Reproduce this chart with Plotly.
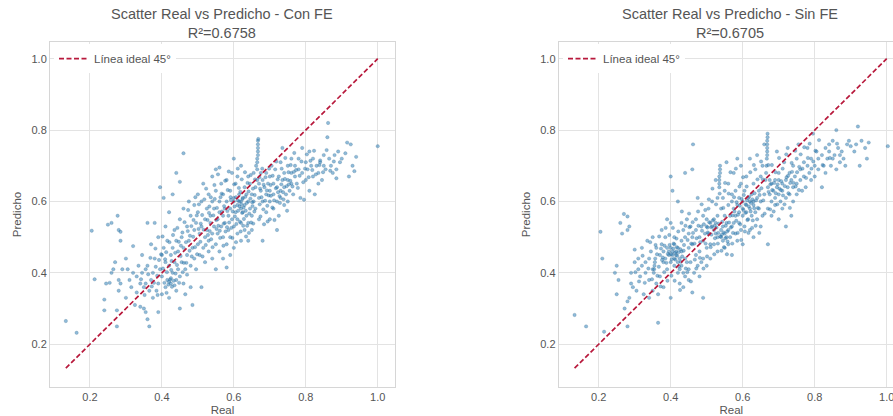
import plotly.graph_objects as go

TITLE_CON = "Scatter Real vs Predicho - Con FE<br>R²=0.6758"
TITLE_SIN = "Scatter Real vs Predicho - Sin FE<br>R²=0.6705"
LINE_NAME = "Línea ideal 45°"
TICKS = [0.2, 0.4, 0.6, 0.8, 1.0]
TICK_TEXT = ["0.2", "0.4", "0.6", "0.8", "1.0"]
IDEAL = [0.133, 1.0]

con_low = [
 (.133,.265),(.163,.232),(.205,.518),(.213,.382),(.24,.325),(.24,.295),(.245,.37),(.255,.372),(.25,.535),(.26,.54),
 (.277,.56),(.275,.25),(.275,.295),(.28,.52),(.285,.515),(.285,.49),(.27,.43),(.265,.41),(.28,.38),(.285,.37),
 (.28,.35),(.26,.40),(.29,.41),(.30,.33),(.30,.44),(.305,.41),(.31,.38),(.315,.36),(.32,.40),(.32,.475),
 (.325,.31),(.33,.39),(.33,.345),(.335,.42),(.34,.305),(.34,.37),(.345,.45),(.345,.40),(.35,.30),(.35,.36),
 (.355,.37),(.355,.41),(.355,.29),(.36,.54),(.36,.27),(.36,.42),(.365,.25),(.365,.35),(.37,.48),(.37,.38),
 (.375,.40),(.375,.33),(.38,.54),(.38,.44),(.385,.35),(.39,.29),(.39,.37),(.39,.50),(.395,.41),(.395,.64),
 (.40,.34),(.40,.45),(.40,.39),(.405,.47),(.405,.61),(.41,.36),(.41,.43),(.41,.53),(.415,.38),(.415,.49),
 (.42,.375),(.42,.42),(.42,.57),(.42,.33),(.425,.37),(.425,.45),(.425,.385),(.43,.40),(.43,.47),(.43,.62),
 (.435,.365),(.435,.43),(.435,.52),(.44,.38),(.44,.49),(.44,.35),(.44,.68),(.445,.41),(.445,.46),(.45,.39),
 (.45,.30),(.45,.55),(.45,.655),(.455,.43),(.455,.50),(.46,.37),(.46,.735),(.46,.47),(.46,.58),(.465,.41),
 (.465,.34),(.47,.45),(.47,.53),(.47,.395),(.475,.60),(.475,.49),(.48,.42),(.48,.36),(.48,.56),(.485,.31),
 (.485,.47),(.49,.52),(.49,.44),(.49,.59),(.495,.41),(.495,.54),(.50,.48),(.50,.62),(.50,.57),(.505,.45),
 (.505,.51),(.51,.36),(.51,.53),(.51,.60),(.515,.47),(.515,.65),(.52,.50),(.52,.55),(.52,.43),(.525,.58),
]
con_mid = [
 (.525,.52),(.53,.46),(.53,.49),(.53,.62),(.535,.56),(.535,.54),(.54,.51),(.54,.60),(.54,.44),(.54,.67),
 (.545,.53),(.545,.58),(.55,.48),(.55,.63),(.55,.69),(.55,.41),(.555,.55),(.555,.51),(.56,.46),(.56,.60),
 (.56,.57),(.56,.695),(.565,.53),(.565,.65),(.57,.50),(.57,.56),(.57,.62),(.57,.44),(.575,.58),(.575,.54),
 (.58,.48),(.58,.66),(.58,.60),(.58,.415),(.585,.52),(.585,.56),(.59,.63),(.59,.50),(.59,.45),(.59,.58),
 (.595,.55),(.595,.68),(.60,.60),(.60,.53),(.60,.61),(.60,.47),(.60,.72),(.605,.57),(.605,.65),(.61,.59),
 (.61,.55),(.61,.51),(.61,.67),(.615,.60),(.615,.62),(.62,.58),(.62,.54),(.62,.60),(.62,.49),(.62,.70),
 (.625,.61),(.625,.57),(.63,.59),(.63,.64),(.63,.52),(.635,.56),(.635,.62),(.64,.60),(.64,.49),(.64,.67),
 (.64,.54),(.645,.58),(.645,.65),(.65,.62),(.65,.56),(.65,.52),(.655,.60),(.655,.68),(.66,.64),(.66,.58),
 (.662,.70),(.665,.66),(.665,.69),(.665,.71),(.665,.72),(.667,.73),(.667,.74),(.667,.75),(.667,.76),(.667,.77),
 (.668,.775),(.67,.65),(.67,.61),(.67,.55),(.675,.68),(.675,.63),(.68,.60),(.68,.66),(.68,.49),(.685,.64),
 (.69,.62),(.69,.68),(.69,.57),(.695,.65),(.70,.60),(.70,.63),(.70,.55),(.70,.67),(.705,.70),(.71,.62),
 (.71,.65),(.71,.58),(.715,.69),(.72,.60),(.72,.64),(.72,.52),(.725,.67),(.725,.56),(.73,.63),(.73,.61),
 (.73,.71),(.735,.66),(.735,.75),(.74,.59),(.74,.64),(.74,.68),(.745,.62),(.75,.66),(.75,.60),(.75,.70),
 (.755,.63),(.76,.68),(.76,.72),(.76,.65),(.765,.62),(.77,.67),(.77,.70),(.775,.65),(.78,.69),(.78,.72),
]
con_core = [
 (.372,.362),(.383,.417),(.387,.392),(.392,.436),(.403,.412),(.407,.372),(.412,.458),(.414,.402),(.418,.367),(.423,.381),
 (.427,.433),(.428,.361),(.433,.378),(.437,.456),(.442,.422),(.447,.487),(.452,.447),(.457,.513),(.461,.428),(.467,.486),
 (.472,.517),(.477,.462),(.482,.531),(.487,.501),(.492,.472),(.497,.561),(.502,.523),(.507,.487),(.512,.562),(.516,.521),
 (.522,.478),(.527,.548),(.532,.586),(.533,.517),(.537,.494),(.543,.561),(.547,.607),(.552,.523),(.553,.582),(.557,.532),
 (.562,.498),(.563,.612),(.567,.572),(.572,.538),(.573,.587),(.577,.516),(.582,.573),(.583,.632),(.587,.541),(.592,.604),
 (.593,.526),(.597,.572),(.602,.586),(.603,.558),(.606,.612),(.607,.537),(.611,.603),(.612,.574),(.616,.586),(.617,.543),
 (.618,.627),(.621,.592),(.623,.568),(.624,.607),(.627,.583),(.628,.551),(.632,.613),(.633,.574),(.636,.596),(.637,.532),
 (.641,.628),(.643,.566),(.646,.608),(.648,.541),(.652,.587),(.653,.636),(.657,.572),(.658,.618),(.672,.592),(.673,.636),
 (.677,.612),(.682,.578),(.683,.647),(.687,.602),(.692,.631),(.693,.588),(.697,.617),(.702,.646),(.707,.583),(.712,.603),
 (.717,.637),(.722,.662),(.727,.615),(.732,.648),(.737,.626),(.742,.663),(.747,.643),(.752,.682),(.757,.658),(.767,.683),
]
con_band = [
 (.342,.382),(.352,.338),(.362,.396),(.368,.442),(.378,.372),(.382,.468),(.388,.338),(.398,.452),(.402,.502),(.409,.438),
 (.413,.344),(.421,.486),(.426,.408),(.431,.506),(.438,.398),(.443,.526),(.448,.372),(.453,.476),(.458,.402),(.463,.542),
 (.468,.428),(.473,.576),(.478,.504),(.483,.446),(.488,.548),(.493,.612),(.498,.452),(.503,.592),(.508,.538),(.513,.446),
 (.518,.606),(.523,.636),(.528,.506),(.531,.568),(.536,.612),(.541,.472),(.546,.646),(.551,.548),(.556,.676),(.561,.518),
 (.566,.622),(.571,.476),(.576,.658),(.581,.528),(.586,.684),(.591,.612),(.596,.498),(.601,.648),(.606,.486),(.611,.692),
 (.614,.638),(.619,.516),(.622,.662),(.626,.532),(.631,.682),(.634,.502),(.638,.652),(.642,.512),(.647,.674),(.651,.598),
 (.654,.538),(.659,.662),(.671,.668),(.674,.558),(.679,.692),(.684,.536),(.688,.668),(.694,.544),(.698,.692),(.703,.616),
 (.708,.672),(.713,.548),(.718,.712),(.723,.626),(.728,.596),(.733,.692),(.738,.606),(.743,.722),(.748,.574),(.753,.648),
 (.758,.702),(.763,.642),(.768,.736),(.773,.688),(.778,.638),(.783,.672),(.788,.712),(.793,.654),(.798,.692),(.803,.732),
 (.808,.668),(.813,.714),(.818,.688),(.823,.742),(.828,.676),(.838,.702),(.848,.682),(.858,.744),(.868,.686),(.878,.712),
]
con_high = [
 (.785,.61),(.79,.68),(.79,.75),(.795,.605),(.80,.66),(.80,.71),(.805,.69),(.81,.74),(.81,.63),(.815,.70),
 (.82,.67),(.82,.72),(.825,.62),(.83,.70),(.835,.65),(.835,.68),(.84,.71),(.84,.715),(.845,.66),(.85,.73),
 (.85,.70),(.855,.69),(.86,.78),(.862,.82),(.865,.72),(.87,.70),(.875,.68),(.88,.73),(.885,.69),(.885,.665),
 (.89,.74),(.895,.71),(.90,.72),(.91,.735),(.915,.765),(.92,.67),(.925,.76),(.93,.70),(.935,.685),(.94,.725),
 (1.0,.755),
]

sin_low = [
 (.133,.282),(.165,.25),(.205,.515),(.21,.44),(.215,.235),(.245,.40),(.25,.34),(.25,.42),(.255,.38),(.26,.54),
 (.265,.51),(.27,.565),(.272,.30),(.28,.558),(.28,.25),(.28,.52),(.285,.53),(.28,.32),(.285,.33),(.29,.37),
 (.29,.40),(.295,.36),(.30,.43),(.30,.465),(.305,.35),(.31,.41),(.31,.44),(.315,.39),(.32,.42),(.32,.47),
 (.325,.34),(.33,.43),(.33,.40),(.335,.49),(.34,.38),(.34,.44),(.34,.33),(.345,.46),(.35,.41),(.35,.50),
 (.35,.35),(.353,.40),(.354,.41),(.355,.42),(.356,.43),(.357,.44),(.36,.47),(.36,.37),(.365,.26),(.365,.34),
 (.37,.45),(.37,.39),(.375,.48),(.375,.52),(.38,.43),(.38,.46),(.38,.36),(.385,.44),(.385,.50),(.39,.47),
 (.39,.55),(.39,.41),(.395,.45),(.395,.46),(.40,.43),(.40,.47),(.40,.33),(.40,.54),(.40,.67),(.405,.45),
 (.405,.46),(.405,.63),(.41,.44),(.41,.48),(.41,.42),(.41,.50),(.415,.46),(.415,.45),(.42,.47),(.42,.40),
 (.42,.43),(.42,.60),(.425,.41),(.425,.44),(.425,.37),(.43,.46),(.43,.49),(.43,.42),(.43,.54),(.435,.40),
 (.435,.52),(.435,.36),(.44,.44),(.44,.50),(.44,.68),(.44,.39),(.445,.43),(.445,.55),(.45,.41),(.45,.47),
 (.45,.51),(.45,.38),(.455,.53),(.455,.43),(.46,.50),(.46,.48),(.46,.69),(.46,.345),(.462,.76),(.465,.40),
 (.47,.52),(.47,.45),(.47,.55),(.475,.42),(.475,.61),(.48,.50),(.48,.46),(.48,.39),(.485,.53),(.485,.43),
 (.49,.33),(.49,.56),(.49,.49),(.49,.44),(.495,.51),(.50,.47),(.50,.53),(.50,.55),(.50,.42),(.505,.51),
]
sin_mid = [
 (.505,.58),(.51,.54),(.51,.48),(.51,.44),(.515,.53),(.515,.60),(.52,.52),(.52,.55),(.52,.48),(.525,.54),
 (.525,.51),(.525,.66),(.53,.50),(.53,.56),(.53,.61),(.53,.46),(.535,.64),(.535,.65),(.535,.66),(.535,.67),
 (.537,.68),(.537,.69),(.537,.70),(.54,.52),(.54,.50),(.54,.58),(.545,.49),(.545,.53),(.545,.61),(.55,.51),
 (.55,.56),(.55,.47),(.55,.63),(.555,.50),(.555,.54),(.555,.71),(.56,.52),(.56,.59),(.56,.48),(.56,.65),
 (.565,.56),(.565,.50),(.57,.53),(.57,.60),(.57,.62),(.57,.45),(.575,.58),(.575,.54),(.575,.68),(.58,.51),
 (.58,.56),(.58,.63),(.585,.59),(.585,.49),(.585,.72),(.59,.54),(.59,.61),(.59,.57),(.595,.52),(.595,.65),
 (.595,.70),(.60,.58),(.60,.56),(.60,.60),(.60,.48),(.605,.63),(.605,.53),(.61,.59),(.61,.57),(.61,.67),
 (.615,.55),(.615,.61),(.62,.60),(.62,.58),(.62,.52),(.62,.72),(.625,.62),(.625,.56),(.63,.60),(.63,.59),
 (.63,.65),(.63,.50),(.635,.57),(.635,.69),(.64,.61),(.64,.55),(.64,.73),(.645,.63),(.645,.58),(.65,.60),
 (.65,.53),(.65,.67),(.655,.56),(.655,.70),(.66,.62),(.66,.76),(.663,.66),(.665,.68),(.666,.70),(.667,.72),
 (.668,.73),(.668,.74),(.668,.75),(.668,.76),(.668,.77),(.669,.78),(.669,.79),(.67,.48),(.67,.58),(.67,.64),
 (.675,.62),(.675,.66),(.68,.60),(.68,.65),(.68,.56),(.685,.63),(.69,.66),(.69,.61),(.69,.59),(.695,.64),
 (.695,.74),(.70,.62),(.70,.66),(.70,.68),(.70,.55),(.705,.60),(.71,.65),(.71,.63),(.71,.58),(.715,.71),
 (.72,.66),(.72,.61),(.72,.53),(.725,.64),(.725,.75),(.73,.68),(.73,.62),(.735,.66),(.735,.56),(.74,.70),
 (.74,.64),(.74,.60),(.745,.67),(.75,.65),(.75,.72),(.75,.62),(.755,.76),(.76,.69),(.76,.66),(.765,.63),
 (.77,.71),(.77,.67),(.775,.64),(.78,.70),(.78,.75),(.785,.68),(.79,.72),(.79,.66),(.795,.79),(.80,.70),
]
sin_core = [
 (.362,.452),(.367,.417),(.373,.468),(.378,.443),(.383,.476),(.388,.428),(.392,.453),(.397,.478),(.401,.452),(.403,.438),
 (.407,.468),(.408,.482),(.412,.456),(.413,.437),(.417,.472),(.418,.448),(.422,.458),(.423,.418),(.427,.466),(.428,.431),
 (.432,.446),(.437,.478),(.442,.412),(.447,.492),(.452,.528),(.457,.482),(.462,.512),(.467,.437),(.472,.497),(.477,.532),
 (.482,.486),(.487,.518),(.492,.536),(.497,.482),(.502,.527),(.503,.513),(.507,.542),(.512,.528),(.513,.507),(.517,.547),
 (.522,.532),(.523,.497),(.527,.527),(.532,.512),(.533,.538),(.538,.502),(.542,.507),(.543,.543),(.547,.513),(.548,.472),
 (.552,.497),(.553,.532),(.557,.516),(.558,.488),(.562,.541),(.567,.527),(.572,.561),(.573,.512),(.577,.572),(.582,.546),
 (.583,.598),(.587,.563),(.592,.588),(.593,.536),(.597,.607),(.602,.576),(.603,.618),(.607,.568),(.608,.592),(.612,.603),
 (.613,.548),(.617,.586),(.618,.613),(.622,.572),(.623,.596),(.627,.606),(.628,.547),(.632,.581),(.633,.623),(.637,.603),
 (.642,.582),(.647,.618),(.652,.637),(.657,.603),(.672,.627),(.677,.648),(.682,.632),(.687,.652),(.692,.623),(.697,.648),
 (.702,.636),(.707,.657),(.712,.617),(.717,.643),(.722,.668),(.727,.623),(.732,.652),(.737,.683),(.747,.642),(.757,.697),
]
sin_band = [
 (.302,.402),(.312,.376),(.322,.448),(.328,.372),(.338,.412),(.343,.486),(.348,.382),(.358,.478),(.363,.392),(.368,.502),
 (.372,.362),(.376,.436),(.382,.402),(.386,.526),(.391,.378),(.396,.506),(.402,.392),(.406,.526),(.411,.378),(.416,.496),
 (.421,.516),(.426,.352),(.431,.572),(.436,.462),(.441,.532),(.446,.402),(.451,.566),(.456,.376),(.461,.542),(.466,.482),
 (.471,.412),(.476,.572),(.481,.442),(.486,.592),(.491,.412),(.496,.576),(.501,.446),(.506,.606),(.511,.472),(.516,.636),
 (.521,.452),(.526,.592),(.531,.482),(.536,.622),(.541,.462),(.546,.582),(.551,.652),(.556,.452),(.561,.622),(.566,.682),
 (.571,.482),(.576,.612),(.581,.692),(.586,.512),(.591,.642),(.596,.492),(.601,.668),(.606,.516),(.611,.642),(.616,.512),
 (.621,.682),(.626,.526),(.631,.702),(.636,.532),(.641,.662),(.646,.512),(.651,.712),(.656,.662),(.661,.566),(.671,.702),
 (.676,.578),(.681,.702),(.686,.572),(.691,.682),(.696,.592),(.701,.722),(.706,.632),(.711,.692),(.716,.592),(.721,.732),
 (.726,.672),(.731,.582),(.736,.708),(.741,.652),(.746,.742),(.751,.682),(.756,.632),(.761,.732),(.766,.692),(.771,.752),
 (.776,.666),(.781,.722),(.786,.762),(.791,.692),(.796,.712),(.802,.742),(.812,.772),(.822,.702),(.842,.722),(.862,.762),
]
sin_high = [
 (.80,.67),(.805,.74),(.81,.72),(.81,.69),(.82,.73),(.82,.64),(.825,.70),(.83,.75),(.83,.68),(.835,.72),
 (.84,.74),(.84,.76),(.845,.70),(.85,.72),(.85,.77),(.855,.73),(.86,.69),(.86,.80),(.865,.75),(.87,.71),
 (.87,.73),(.875,.74),(.88,.72),(.885,.70),(.89,.76),(.895,.77),(.90,.755),(.91,.74),(.915,.76),(.92,.81),
 (.925,.70),(.93,.77),(.94,.75),(.945,.72),(.95,.765),(1.003,.755),
]


def unpack(*groups):
    pts = [p for g in groups for p in g]
    return [p[0] for p in pts], [p[1] for p in pts]


con_x, con_y = unpack(con_low, con_mid, con_core, con_band, con_high)
sin_x, sin_y = unpack(sin_low, sin_mid, sin_core, sin_band, sin_high)

W, H = 912, 416
TXT = "#555555"
GRID = "#e3e3e3"
SPINE = "#d6d6d6"
FONT = "Liberation Sans, Arial, sans-serif"


def px(v):
    return v / W


def py(v):
    return 1 - v / H


fig = go.Figure()
marker = dict(size=3.4, color="rgba(31,119,180,0.5)", line=dict(width=0.5, color="rgba(50,100,135,0.45)"))
line = dict(color="#b8193c", width=1.7, dash="5px,2.5px")

fig.add_trace(go.Scatter(x=con_x, y=con_y, mode="markers", marker=marker, showlegend=False, xaxis="x", yaxis="y"))
fig.add_trace(go.Scatter(x=IDEAL, y=IDEAL, mode="lines", line=line, name=LINE_NAME, xaxis="x", yaxis="y", legend="legend"))
fig.add_trace(go.Scatter(x=sin_x, y=sin_y, mode="markers", marker=marker, showlegend=False, xaxis="x2", yaxis="y2"))
fig.add_trace(go.Scatter(x=IDEAL, y=IDEAL, mode="lines", line=line, name=LINE_NAME, xaxis="x2", yaxis="y2", legend="legend2"))

common = dict(
    tickvals=TICKS, ticktext=TICK_TEXT, showgrid=True, gridcolor=GRID, gridwidth=1.2,
    zeroline=False, showline=True, linecolor=SPINE, linewidth=1, mirror=True, ticks="",
    tickfont=dict(size=11, color=TXT, family=FONT),
)
axis_title = dict(font=dict(size=11.5, color=TXT, family=FONT))
legend_base = dict(
    bgcolor="white", borderwidth=0, font=dict(size=11.5, color=TXT, family=FONT),
    xanchor="left", yanchor="middle", itemwidth=30, tracegroupgap=0,
)

fig.update_layout(
    width=W, height=H, margin=dict(l=0, r=0, t=0, b=0),
    paper_bgcolor="white", plot_bgcolor="white", hovermode=False,
    font=dict(family=FONT, color=TXT),
    xaxis=dict(domain=[px(50), px(395)], range=[0.089, 1.048],
               title=dict(text="Real", standoff=4, **axis_title), **common),
    yaxis=dict(domain=[py(386.7), py(42.3)], range=[0.081, 1.046],
               title=dict(text="Predicho", standoff=7, **axis_title), **common),
    xaxis2=dict(domain=[px(558.7), px(904)], range=[0.0889, 1.048], anchor="y2",
                title=dict(text="Real", standoff=4, **axis_title), **common),
    yaxis2=dict(domain=[py(386.7), py(42.3)], range=[0.081, 1.046], anchor="x2",
                title=dict(text="Predicho", standoff=7, **axis_title), **common),
    legend=dict(x=px(54), y=py(58.7), **legend_base),
    legend2=dict(x=px(563), y=py(58.7), **legend_base),
    annotations=[
        dict(text=TITLE_CON, x=px(222), y=py(23), xref="paper", yref="paper", showarrow=False,
             xanchor="center", yanchor="middle", font=dict(size=14.5, color=TXT, family=FONT), align="center"),
        dict(text=TITLE_SIN, x=px(730), y=py(23), xref="paper", yref="paper", showarrow=False,
             xanchor="center", yanchor="middle", font=dict(size=14.5, color=TXT, family=FONT), align="center"),
    ],
)

fig.write_html("out.html", config={"displayModeBar": False},
               post_script="document.documentElement.style.overflow='hidden';document.body.style.margin='0';document.body.style.overflow='hidden';")
